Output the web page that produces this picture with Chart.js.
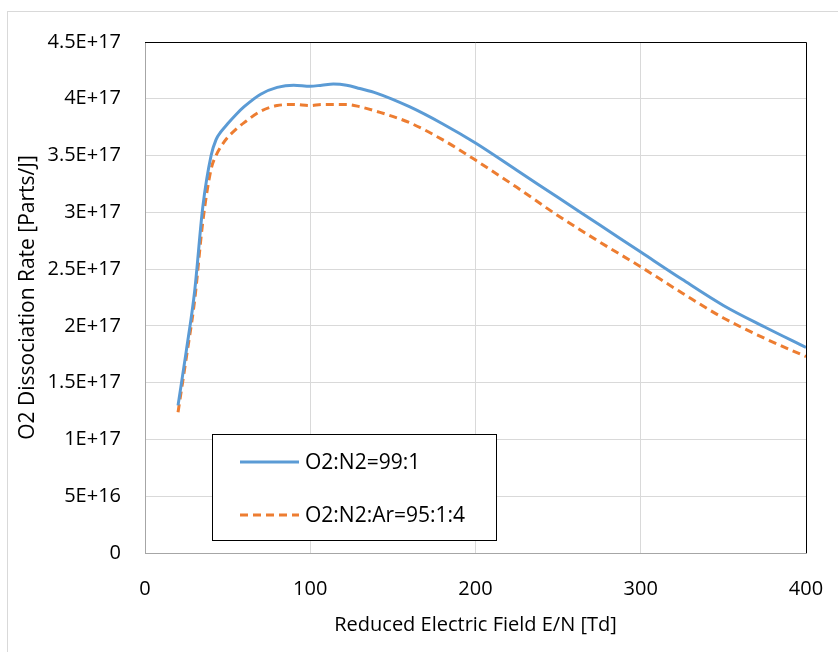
<!DOCTYPE html>
<html>
<head>
<meta charset="utf-8">
<title>O2 Dissociation Rate</title>
<script src="https://cdn.jsdelivr.net/npm/chart.js@4.4.1/dist/chart.umd.min.js"></script>
<style>
  body { margin: 0; background: #fff; }
  #wrap { position: relative; width: 838px; height: 652px; }
  #frame { position: absolute; left: 7px; top: 11px; right: -2px; bottom: -2px;
           border: 1px solid #d9d9d9; pointer-events: none; }
</style>
</head>
<body>
<div id="wrap">
  <canvas id="chart"></canvas>
  <div id="frame"></div>
</div>
<script>
// Reduced electric field E/N [Td]
const fieldTd = [20, 25, 30, 35, 40, 43, 46, 50, 55, 60, 70, 80, 90, 100, 107, 114, 122, 130, 140,
                 160, 180, 200, 225, 250, 275, 300, 325, 350, 375, 400];

// O2 dissociation rate [Parts/J]
const rateN2 = [1.30e17, 1.78e17, 2.30e17, 3.05e17, 3.50e17, 3.64e17, 3.71e17, 3.78e17, 3.86e17,
                3.93e17, 4.04e17, 4.10e17, 4.12e17, 4.11e17, 4.12e17, 4.13e17, 4.12e17, 4.09e17, 4.05e17,
                3.93e17, 3.78e17, 3.61e17, 3.37e17, 3.13e17, 2.89e17, 2.65e17, 2.41e17, 2.18e17,
                1.99e17, 1.81e17];
const rateAr = [1.24e17, 1.72e17, 2.22e17, 2.92e17, 3.38e17, 3.50e17, 3.58e17, 3.66e17, 3.73e17,
                3.79e17, 3.89e17, 3.94e17, 3.95e17, 3.94e17, 3.95e17, 3.95e17, 3.95e17, 3.93e17, 3.89e17,
                3.79e17, 3.64e17, 3.46e17, 3.22e17, 2.97e17, 2.74e17, 2.52e17, 2.29e17, 2.07e17,
                1.89e17, 1.73e17];

const seriesNames = ['O2:N2=99:1', 'O2:N2:Ar=95:1:4'];
const yTickLabels = ['0', '5E+16', '1E+17', '1.5E+17', '2E+17', '2.5E+17', '3E+17', '3.5E+17', '4E+17', '4.5E+17'];

const FONT = '"Open Sans", "Noto Sans", sans-serif';
const BLUE = '#5b9bd5';
const ORANGE = '#ed7d31';

// black frame on top/right of plot area (left/bottom are the grey axis lines)
const plotFrame = {
  id: 'plotFrame',
  beforeDatasetsDraw(chart) {
    const { ctx, chartArea: a } = chart;
    ctx.save();
    ctx.strokeStyle = '#000';
    ctx.lineWidth = 1;
    ctx.beginPath();
    ctx.moveTo(a.left, a.top + 0.5);
    ctx.lineTo(a.right + 0.5, a.top + 0.5);
    ctx.lineTo(a.right + 0.5, a.bottom);
    ctx.stroke();
    ctx.restore();
  }
};

// boxed legend inside the plot, Excel style
const boxLegend = {
  id: 'boxLegend',
  afterDatasetsDraw(chart) {
    const ctx = chart.ctx;
    const x = 212.5, y = 434.5, w = 284, h = 106;
    ctx.save();
    ctx.fillStyle = '#fff';
    ctx.fillRect(x, y, w, h);
    ctx.strokeStyle = '#000';
    ctx.lineWidth = 1;
    ctx.strokeRect(x, y, w, h);

    const rows = [462, 515];
    chart.data.datasets.forEach((ds, i) => {
      ctx.beginPath();
      ctx.strokeStyle = ds.borderColor;
      ctx.lineWidth = 3;
      ctx.setLineDash(ds.borderDash || []);
      ctx.moveTo(240, rows[i]);
      ctx.lineTo(299, rows[i]);
      ctx.stroke();
      ctx.setLineDash([]);
      ctx.fillStyle = '#000';
      ctx.font = '21px ' + FONT;
      ctx.textBaseline = 'middle';
      ctx.fillText(ds.label, 305, rows[i] + 1);
    });
    ctx.restore();
  }
};

new Chart(document.getElementById('chart'), {
  type: 'line',
  data: {
    datasets: [
      {
        label: seriesNames[0],
        data: fieldTd.map((x, i) => ({ x: x, y: rateN2[i] })),
        borderColor: BLUE,
        borderWidth: 3,
        pointRadius: 0,
        cubicInterpolationMode: 'monotone'
      },
      {
        label: seriesNames[1],
        data: fieldTd.map((x, i) => ({ x: x, y: rateAr[i] })),
        borderColor: ORANGE,
        borderWidth: 3,
        borderDash: [8, 5],
        pointRadius: 0,
        cubicInterpolationMode: 'monotone'
      }
    ]
  },
  options: {
    responsive: true,
    maintainAspectRatio: false,
    animation: false,
    layout: { padding: { top: 42, right: 32, left: 0, bottom: 0 } },
    plugins: {
      legend: { display: false },
      tooltip: { enabled: false }
    },
    scales: {
      x: {
        type: 'linear',
        min: 0,
        max: 400,
        ticks: {
          stepSize: 100,
          padding: 24,
          color: '#000',
          font: { family: FONT, size: 20 },
          maxRotation: 0
        },
        grid: { color: '#d9d9d9', lineWidth: 1, drawTicks: false },
        border: { color: '#a6a6a6', width: 1 },
        title: {
          display: true,
          text: 'Reduced Electric Field E/N [Td]',
          color: '#000',
          font: { family: FONT, size: 20 },
          padding: { top: 0, bottom: 15 }
        },
        afterFit(scale) {
          scale.height = 99;
          scale.paddingLeft = 0;
          scale.paddingRight = 0;
        }
      },
      y: {
        min: 0,
        max: 4.5e17,
        ticks: {
          stepSize: 5e16,
          padding: 24,
          color: '#000',
          font: { family: FONT, size: 20 },
          callback: (v, i) => yTickLabels[i]
        },
        grid: { color: '#d9d9d9', lineWidth: 1, drawTicks: false },
        border: { color: '#a6a6a6', width: 1 },
        title: {
          display: true,
          text: 'O2 Dissociation Rate [Parts/J]',
          color: '#000',
          font: { family: FONT, size: 21 },
          padding: { top: 15, bottom: 0 }
        },
        afterFit(scale) {
          scale.width = 145;
          scale.paddingTop = 0;
          scale.paddingBottom = 0;
        }
      }
    }
  },
  plugins: [plotFrame, boxLegend]
});
</script>
</body>
</html>
